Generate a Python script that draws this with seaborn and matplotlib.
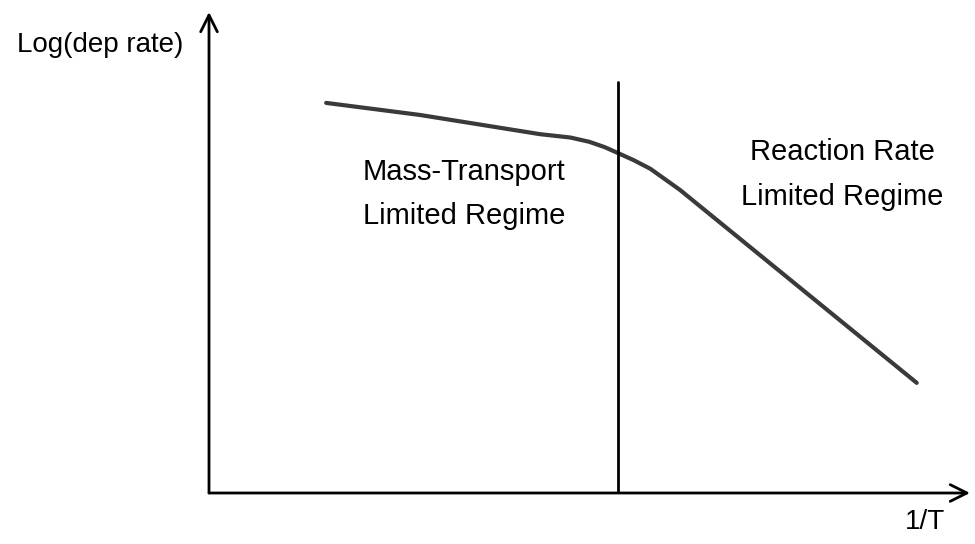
import matplotlib
matplotlib.use("Agg")
import matplotlib.pyplot as plt
import seaborn as sns
import pandas as pd

# curve: log(deposition rate) vs 1/T (arbitrary units)
inv_T = [1.54, 2.77, 4.35, 4.75, 5.00, 5.20, 5.37, 5.58, 5.80, 6.19, 9.30]
log_rate = [8.11, 7.86, 7.46, 7.39, 7.30, 7.19, 7.07, 6.92, 6.74, 6.30, 2.29]

# boundary between the two regimes
boundary_x = 5.37
boundary_top = 8.54

regime_labels = ["Mass-Transport\nLimited Regime", "Reaction Rate\nLimited Regime"]
x_label = "1/T"
y_label = "Log(dep rate)"

sns.set_style("white")
plt.rcParams["font.family"] = ["Liberation Sans", "DejaVu Sans"]

df = pd.DataFrame({"inv_T": inv_T, "log_rate": log_rate})

fig = plt.figure(figsize=(9.75, 5.44), dpi=100)
# origin at pixel (209, 493), axis ends at (970, 12)
ax = fig.add_axes([209 / 975, (544 - 493) / 544, (970 - 209) / 975, (493 - 12) / 544])
ax.set_xlim(0, 10)
ax.set_ylim(0, 10)
for s in ax.spines.values():
    s.set_visible(False)

sns.lineplot(data=df, x="inv_T", y="log_rate", ax=ax, color="#3a3a3a", linewidth=3, sort=False)
ax.set_xticks([])
ax.set_yticks([])
ax.set_xlabel("")
ax.set_ylabel("")

# axes with arrow heads
arrow = dict(arrowstyle="->", color="black", lw=2, mutation_scale=30, shrinkA=0, shrinkB=0)
ax.annotate("", xy=(10, 0), xytext=(0, 0), arrowprops=arrow, annotation_clip=False)
ax.annotate("", xy=(0, 10), xytext=(0, 0), arrowprops=arrow, annotation_clip=False)

ax.plot([boundary_x, boundary_x], [0, boundary_top], color="black", lw=2)

ax.text(3.35, 6.22, regime_labels[0], ha="center", va="center", fontsize=21,
        linespacing=1.75, color="black")
ax.text(8.32, 6.62, regime_labels[1], ha="center", va="center", fontsize=21,
        linespacing=1.75, color="black")

fig.text(17 / 975, 1 - 45 / 544, y_label, ha="left", va="center", fontsize=20, color="black")
fig.text(925 / 975, 1 - 522 / 544, x_label, ha="center", va="center", fontsize=20, color="black")

fig.savefig("out.png", dpi=100)
